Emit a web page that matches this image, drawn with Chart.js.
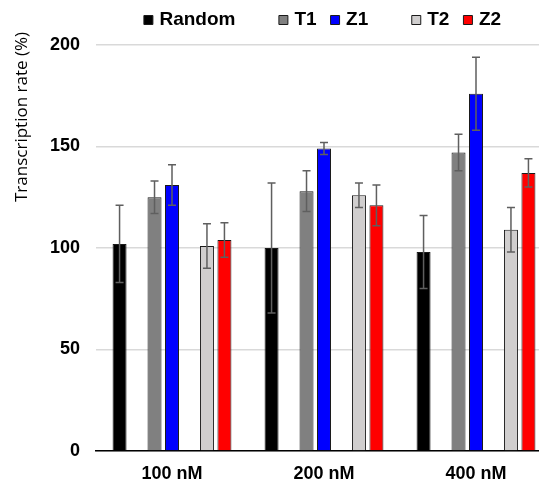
<!DOCTYPE html>
<html>
<head>
<meta charset="utf-8">
<script src="https://cdn.jsdelivr.net/npm/chart.js@4.4.0/dist/chart.umd.min.js"></script>
<style>
  html, body { margin: 0; padding: 0; background: #fff; overflow: hidden; }
  #wrap { position: relative; width: 560px; height: 486px; }
</style>
</head>
<body>
<div id="wrap"><canvas id="chart"></canvas></div>
<script>
// values
const categories = ['100 nM', '200 nM', '400 nM'];
const randomVals = [102, 100, 98];
const randomErr  = [19, 32, 18];
const t1Vals = [125, 128, 147];
const t1Err  = [8, 10, 9];
const z1Vals = [131, 149, 176];
const z1Err  = [10, 3, 18];
const t2Vals = [101, 126, 109];
const t2Err  = [11, 6, 11];
const z2Vals = [104, 121, 137];
const z2Err  = [8.5, 10, 7];
const yTicks = [0, 50, 100, 150, 200];
const empty = [null, null, null];

const FONT = "'Liberation Sans', Arial, sans-serif";

function bar(label, data, err, color) {
  return {
    label: label, data: data, err: err,
    backgroundColor: color, borderColor: '#1a1a1a', borderWidth: 1,
    barPercentage: 0.8, categoryPercentage: 0.805
  };
}
// spacer series keep the gaps the original chart has between groups
function spacer() {
  return {
    label: '', data: empty, backgroundColor: 'rgba(0,0,0,0)', borderColor: 'rgba(0,0,0,0)',
    borderWidth: 0, barPercentage: 0.8, categoryPercentage: 0.805
  };
}

const errorBars = {
  id: 'errorBars',
  afterDatasetsDraw(chart) {
    const ctx = chart.ctx, y = chart.scales.y;
    ctx.save();
    ctx.strokeStyle = '#5f5f5f';
    ctx.lineWidth = 1.5;
    chart.data.datasets.forEach((ds, i) => {
      if (!ds.err) return;
      const meta = chart.getDatasetMeta(i);
      meta.data.forEach((el, j) => {
        const v = ds.data[j], e = ds.err[j];
        if (v == null) return;
        const top = y.getPixelForValue(v + e), bot = y.getPixelForValue(v - e);
        const x = el.x, cap = 4;
        ctx.beginPath();
        ctx.moveTo(x, top); ctx.lineTo(x, bot);
        ctx.moveTo(x - cap, top); ctx.lineTo(x + cap, top);
        ctx.moveTo(x - cap, bot); ctx.lineTo(x + cap, bot);
        ctx.stroke();
      });
    });
    ctx.restore();
  }
};

// axis title sits above the middle of the axis in the original
const yTitle = {
  id: 'yTitle',
  afterDraw(chart) {
    const ctx = chart.ctx;
    ctx.save();
    ctx.translate(27, 117);
    ctx.rotate(-Math.PI / 2);
    ctx.font = "17px 'Open Sans', sans-serif";
    ctx.fillStyle = '#000';
    ctx.textAlign = 'center';
    ctx.textBaseline = 'alphabetic';
    ctx.fillText('Transcription rate (%)', 0, 0);
    ctx.restore();
  }
};

new Chart(document.getElementById('chart'), {
  type: 'bar',
  data: {
    labels: categories,
    datasets: [
      bar('Random', randomVals, randomErr, '#000000'),
      spacer(),
      bar('T1', t1Vals, t1Err, '#808080'),
      bar('Z1', z1Vals, z1Err, '#0000ff'),
      spacer(),
      bar('T2', t2Vals, t2Err, '#d0cece'),
      bar('Z2', z2Vals, z2Err, '#ff0000')
    ]
  },
  plugins: [errorBars, yTitle],
  options: {
    responsive: true,
    maintainAspectRatio: false,
    animation: false,
    layout: { padding: { left: 0, right: 8, top: -6.5, bottom: 0 } },
    plugins: {
      tooltip: { enabled: false },
      legend: {
        position: 'top',
        fullSize: false,
        labels: {
          usePointStyle: true, pointStyle: 'rect',
          boxWidth: 3, boxHeight: 9, padding: 17,
          color: '#000',
          font: { family: FONT, size: 19, weight: 'bold' }
        }
      }
    },
    scales: {
      x: {
        grid: { display: false, drawTicks: false },
        border: { display: true, color: '#000', width: 1.5 },
        ticks: { color: '#000', padding: 12, font: { family: FONT, size: 18, weight: 'bold' } },
        afterFit(s) { s.height = 35; }
      },
      gap: {
        type: 'category', position: 'top',
        grid: { display: false, drawTicks: false },
        border: { display: false },
        ticks: { display: false },
        afterFit(s) { s.height = 5.5; }
      },
      y: {
        min: 0, max: 200,
        afterBuildTicks(s) { s.ticks = yTicks.map(v => ({ value: v })); },
        grid: { color: '#d9d9d9', lineWidth: 1.5, drawTicks: false },
        border: { display: false },
        ticks: { color: '#000', padding: 16, font: { family: FONT, size: 18, weight: 'bold' } },
        afterFit(s) { s.width = 96; }
      }
    }
  }
});
</script>
</body>
</html>
